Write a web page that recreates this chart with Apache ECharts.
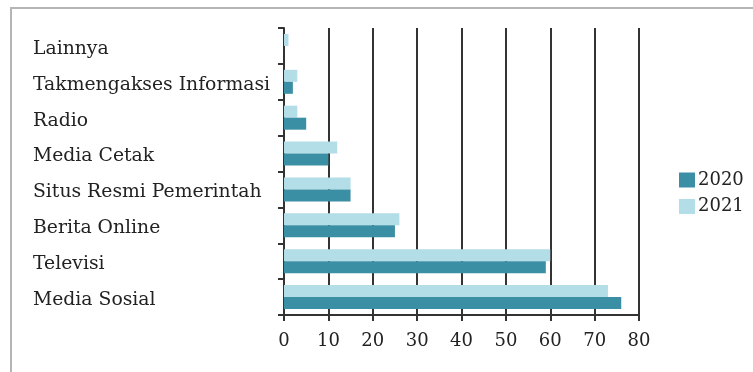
<!DOCTYPE html>
<html><head><meta charset="utf-8">
<script src="https://cdn.jsdelivr.net/npm/echarts@6/dist/echarts.min.js"></script>
<style>
html,body{margin:0;padding:0;background:#fff;}
#c{width:753px;height:372px;position:relative;}
#frame{position:absolute;left:10px;top:7px;right:0;bottom:0;border-top:2px solid #b5b5b5;border-left:2px solid #b5b5b5;pointer-events:none;}
</style></head>
<body>
<div id="wrap" style="position:relative;width:753px;height:372px;">
<div id="c"></div>
<div id="frame"></div>
</div>
<script>
const categories = ['Media Sosial','Televisi','Berita Online','Situs Resmi Pemerintah','Media Cetak','Radio','Takmengakses Informasi','Lainnya'];
const values2020 = [76, 59, 25, 15, 10, 5, 2, 0];
const values2021 = [73, 60, 26, 15, 12, 3, 3, 1];
const seriesNames = ['2020','2021'];
const xTicks = [0, 80, 10];

const font = 'DejaVu Serif';
const chart = echarts.init(document.getElementById('c'));
chart.setOption({
  animation: false,
  grid: {left: 284, right: 114, top: 28, bottom: 57},
  legend: {
    orient: 'vertical', left: 674, top: 166, itemWidth: 16, itemHeight: 15, itemGap: 8.5,
    icon: 'rect',
    textStyle: {fontFamily: font, fontSize: 18, color: '#222', padding: [0,0,0,-2]},
    data: seriesNames
  },
  xAxis: {
    type: 'value', min: xTicks[0], max: xTicks[1], interval: xTicks[2],
    axisLine: {show: true, lineStyle: {color: '#333', width: 2}},
    axisTick: {show: true, length: 6, lineStyle: {color: '#333', width: 2}},
    axisLabel: {fontFamily: font, fontSize: 18, color: '#222', margin: 17},
    splitLine: {show: true, lineStyle: {color: '#333', width: 2}}
  },
  yAxis: {
    type: 'category', data: categories,
    axisLine: {show: true, lineStyle: {color: '#333', width: 2}},
    axisTick: {show: true, length: 6, lineStyle: {color: '#333', width: 2}},
    axisLabel: {fontFamily: font, fontSize: 18.8, color: '#222', align: 'left', margin: 251, verticalAlign: 'top', lineHeight: 20, padding: [-7,0,0,0]}
  },
  series: [
    {name: seriesNames[1], type: 'bar', data: values2021, barWidth: 12, barGap: '0%', itemStyle: {color: '#b3dde7'}},
    {name: seriesNames[0], type: 'bar', data: values2020, barWidth: 12, barGap: '0%', itemStyle: {color: '#3b8fa4'}}
  ]
});
</script>
</body></html>
